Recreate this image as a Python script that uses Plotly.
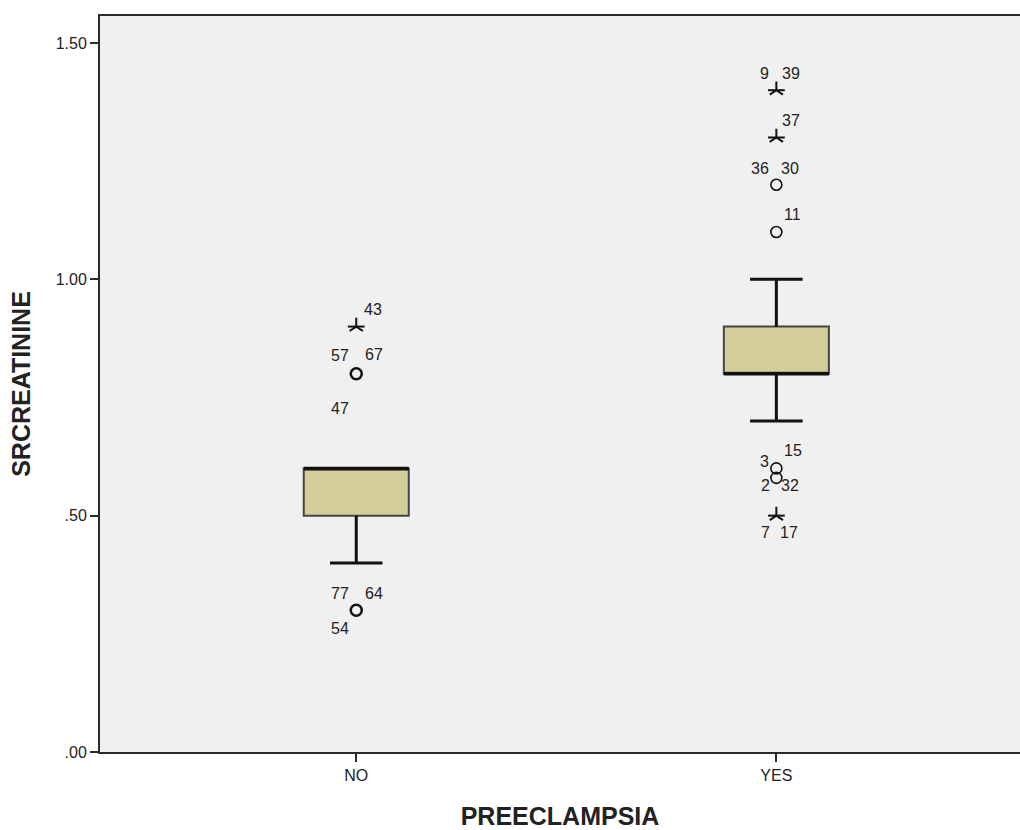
import plotly.graph_objects as go

# ---- data ----
groups = ["NO", "YES"]
q1 = [0.50, 0.80]
median = [0.60, 0.80]
q3 = [0.60, 0.90]
lower_whisker = [0.40, 0.70]
upper_whisker = [0.60, 1.00]

# outliers: group, value, kind (circle = outlier, star = extreme)
out_group = ["NO", "NO", "NO", "YES", "YES", "YES", "YES", "YES", "YES", "YES"]
out_value = [0.90, 0.80, 0.30, 1.40, 1.30, 1.20, 1.10, 0.60, 0.58, 0.50]
out_kind = ["star", "circle", "circle", "star", "star", "circle", "circle", "circle", "circle", "star"]
out_cases = [["43"], ["57", "67", "47"], ["77", "64", "54"], ["9", "39"], ["37"],
             ["36", "30"], ["11"], ["3", "15"], ["2", "32"], ["7", "17"]]

y_tickvals = [0.0, 0.5, 1.0, 1.5]
y_ticktext = [".00", ".50", "1.00", "1.50"]

# ---- style ----
BOX_W = 0.25
CAP_W = 0.125
label_offsets = [
    [(17, 17)],
    [(-16, 18), (18, 19), (-16, -35)],
    [(-16, 17), (18, 17), (-16, -18)],
    [(-12, 17), (15, 17)],
    [(15, 17)],
    [(-16, 16), (14, 16)],
    [(16, 18)],
    [(-12, 7), (17, 18)],
    [(-11, -8), (14, -8)],
    [(-11, -17), (13, -17)],
]

gidx = {g: i for i, g in enumerate(groups)}
font_main = "Liberation Sans, Arial, sans-serif"
INK = "#111111"

fig = go.Figure()
fig.add_trace(go.Box(
    x=[gidx[g] for g in groups],
    q1=q1, median=median, q3=q3,
    lowerfence=q1, upperfence=q3,
    width=BOX_W, whiskerwidth=0,
    fillcolor="#d3ce99",
    line=dict(color="#444444", width=2),
    boxpoints=False, showlegend=False, hoverinfo="skip",
))

# whiskers and caps
wx, wy = [], []
for g, a, b, lo, hi in zip(groups, q1, q3, lower_whisker, upper_whisker):
    i = gidx[g]
    if lo < a:
        wx += [i, i, None, i - CAP_W / 2, i + CAP_W / 2, None]
        wy += [a, lo, None, lo, lo, None]
    if hi > b:
        wx += [i, i, None, i - CAP_W / 2, i + CAP_W / 2, None]
        wy += [b, hi, None, hi, hi, None]
fig.add_trace(go.Scatter(x=wx, y=wy, mode="lines", line=dict(color=INK, width=3),
                         showlegend=False, hoverinfo="skip"))

# median lines
mx, my = [], []
for g, m in zip(groups, median):
    i = gidx[g]
    mx += [i - BOX_W / 2, i + BOX_W / 2, None]
    my += [m, m, None]
fig.add_trace(go.Scatter(x=mx, y=my, mode="lines", line=dict(color=INK, width=3.5),
                         showlegend=False, hoverinfo="skip"))

# outliers (circles)
cx = [gidx[g] for g, k in zip(out_group, out_kind) if k == "circle"]
cy = [v for v, k in zip(out_value, out_kind) if k == "circle"]
cw = [2.5 if g == "NO" else 1.6 for g, k in zip(out_group, out_kind) if k == "circle"]
fig.add_trace(go.Scatter(
    x=cx, y=cy, mode="markers", showlegend=False, hoverinfo="skip",
    marker=dict(symbol="circle-open", size=11, color=INK, line=dict(color=INK, width=cw)),
))
# extremes (asterisks)
sx = [gidx[g] for g, k in zip(out_group, out_kind) if k == "star"]
sy = [v for v, k in zip(out_value, out_kind) if k == "star"]
for sym, sz in [("y-up-open", 11), ("line-ew-open", 12)]:
    fig.add_trace(go.Scatter(
        x=sx, y=sy, mode="markers", showlegend=False, hoverinfo="skip",
        marker=dict(symbol=sym, size=sz, color=INK, line=dict(color=INK, width=2)),
    ))

annotations = []
for g, v, cases, offs in zip(out_group, out_value, out_cases, label_offsets):
    for c, (dx, dy) in zip(cases, offs):
        annotations.append(dict(
            x=gidx[g], y=v, text=c, showarrow=False,
            xshift=dx, yshift=dy, xref="x", yref="y",
            font=dict(family=font_main, size=16, color="#222222"),
        ))

fig.update_layout(
    width=1020, height=830,
    margin=dict(l=100, r=0, t=16, b=78),
    paper_bgcolor="white", plot_bgcolor="#f0f0f0",
    annotations=annotations,
    xaxis=dict(
        range=[-0.61, 1.58], tickvals=[0, 1], ticktext=groups,
        showgrid=False, zeroline=False,
        showline=True, linecolor="#2a2a2a", linewidth=2, mirror=True,
        ticks="outside", ticklen=8, tickwidth=2, tickcolor="#2a2a2a",
        tickfont=dict(family=font_main, size=16, color="#222222"),
        title=dict(text="<b>PREECLAMPSIA</b>", standoff=24,
                   font=dict(family=font_main, size=25, color="#222222")),
    ),
    yaxis=dict(
        range=[0, 1.557], tickvals=y_tickvals, ticktext=y_ticktext,
        showgrid=False, zeroline=False,
        showline=True, linecolor="#2a2a2a", linewidth=2,
        ticks="outside", ticklen=8, tickwidth=2, tickcolor="#2a2a2a",
        tickfont=dict(family=font_main, size=16, color="#222222"),
        title=dict(text="<b>SRCREATININE</b>", standoff=18,
                   font=dict(family=font_main, size=25, color="#222222")),
    ),
)

fig.write_html("out.html", config={"displayModeBar": False},
               post_script="document.body.style.margin='0';")
